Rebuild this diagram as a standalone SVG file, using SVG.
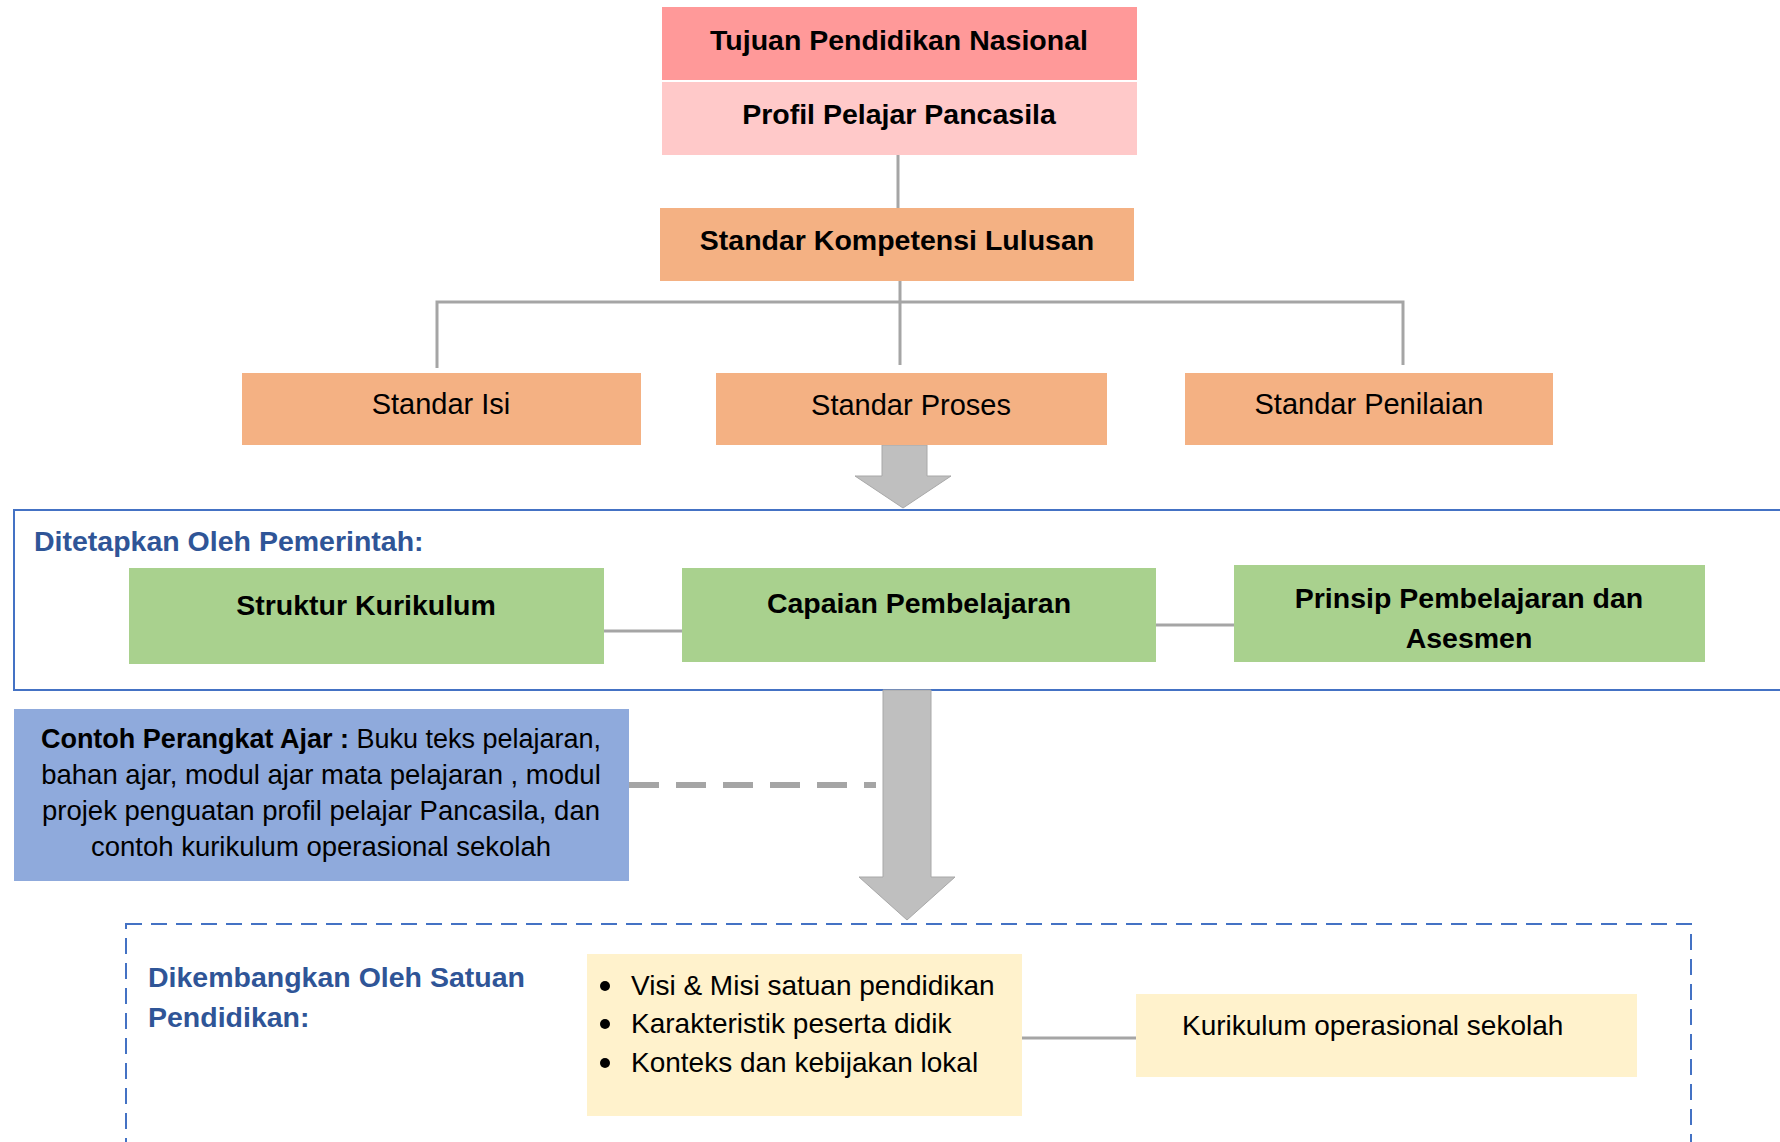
<svg xmlns="http://www.w3.org/2000/svg" width="1780" height="1142" viewBox="0 0 1780 1142">
<style>
text{font-family:"Liberation Sans",Arial,sans-serif;fill:#000}
.b{font-weight:bold;font-size:28.5px}
.r{font-size:29px}
.s{font-size:28px}
.c{text-anchor:middle}
.hd{font-weight:bold;font-size:28.5px;fill:#2F5597}
.red{fill:#FF9999}
.pink{fill:#FFC9C9}
.or{fill:#F4B183}
.gr{fill:#A9D18E}
.bl{fill:#8FAADC}
.ye{fill:#FFF2CC}
.ln{stroke:#A5A5A5;stroke-width:3;fill:none}
.arr{fill:#BFBFBF;stroke:#A8A8A8;stroke-width:1}
</style>
<rect width="1780" height="1142" fill="#fff"/>
<g id="frame-pemerintah"><rect x="14" y="510" width="1780" height="180" fill="#fff" stroke="#4472C4" stroke-width="2"/>
<text class="hd" x="34" y="551">Ditetapkan Oleh Pemerintah:</text></g>
<g id="frame-satuan"><rect x="126" y="924" width="1565" height="300" fill="#fff" stroke="#4472C4" stroke-width="2" stroke-dasharray="16 9"/>
<text class="hd" x="148" y="987">Dikembangkan Oleh Satuan</text>
<text class="hd" x="148" y="1027">Pendidikan:</text></g>
<g id="connectors">
<line class="ln" x1="898" y1="155" x2="898" y2="208"/>
<polyline class="ln" points="437,368 437,302 1403,302 1403,365"/>
<line class="ln" x1="900" y1="281" x2="900" y2="365"/>
<line class="ln" x1="604" y1="631" x2="686" y2="631"/>
<line class="ln" x1="1156" y1="625" x2="1234" y2="625"/>
<line x1="629" y1="785" x2="876" y2="785" stroke="#A5A5A5" stroke-width="6" stroke-dasharray="30 17"/>
<line class="ln" x1="1022" y1="1038" x2="1136" y2="1038"/>
<polygon class="arr" points="882,445 927,445 927,476 951,476 903,508 855,476 882,476"/>
<polygon class="arr" points="883,690 931,690 931,877 955,877 907,920 859,877 883,877"/>
</g>
<g id="tujuan"><rect class="red" x="662" y="7" width="475" height="73"/>
<text class="b c" x="899" y="50">Tujuan Pendidikan Nasional</text></g>
<g id="profil"><rect class="pink" x="662" y="82" width="475" height="73"/>
<text class="b c" x="899" y="124">Profil Pelajar Pancasila</text></g>
<g id="skl"><rect class="or" x="660" y="208" width="474" height="73"/>
<text class="b c" x="897" y="250">Standar Kompetensi Lulusan</text></g>
<g id="standar-isi"><rect class="or" x="242" y="373" width="399" height="72"/>
<text class="r c" x="441" y="414">Standar Isi</text></g>
<g id="standar-proses"><rect class="or" x="716" y="373" width="391" height="72"/>
<text class="r c" x="911" y="415">Standar Proses</text></g>
<g id="standar-penilaian"><rect class="or" x="1185" y="373" width="368" height="72"/>
<text class="r c" x="1369" y="414">Standar Penilaian</text></g>
<g id="struktur"><rect class="gr" x="129" y="568" width="475" height="96"/>
<text class="b c" x="366" y="615">Struktur Kurikulum</text></g>
<g id="capaian"><rect class="gr" x="682" y="568" width="474" height="94"/>
<text class="b c" x="919" y="613">Capaian  Pembelajaran</text></g>
<g id="prinsip"><rect class="gr" x="1234" y="565" width="471" height="97"/>
<text class="b c" x="1469" y="608">Prinsip Pembelajaran dan</text>
<text class="b c" x="1469" y="648">Asesmen</text></g>
<g id="contoh"><rect class="bl" x="14" y="709" width="615" height="172"/>
<text class="c" style="font-size:27px" x="321" y="748"><tspan font-weight="bold">Contoh Perangkat Ajar :</tspan> Buku teks pelajaran,</text>
<text class="c" style="font-size:27.5px" x="321" y="784">bahan ajar, modul ajar mata pelajaran , modul</text>
<text class="c" style="font-size:27.5px" x="321" y="820">projek penguatan profil pelajar Pancasila, dan</text>
<text class="c" style="font-size:27.5px" x="321" y="856">contoh kurikulum operasional sekolah</text></g>
<g id="konteks"><rect class="ye" x="587" y="954" width="435" height="162"/>
<circle cx="605" cy="986" r="5"/><circle cx="605" cy="1024" r="5"/><circle cx="605" cy="1063" r="5"/>
<text class="s" x="631" y="995">Visi &amp; Misi satuan pendidikan</text>
<text class="s" x="631" y="1033">Karakteristik peserta didik</text>
<text class="s" x="631" y="1072">Konteks dan kebijakan lokal</text></g>
<g id="kurikulum-operasional"><rect class="ye" x="1136" y="994" width="501" height="83"/>
<text class="s" x="1182" y="1035">Kurikulum operasional sekolah</text></g>
</svg>
